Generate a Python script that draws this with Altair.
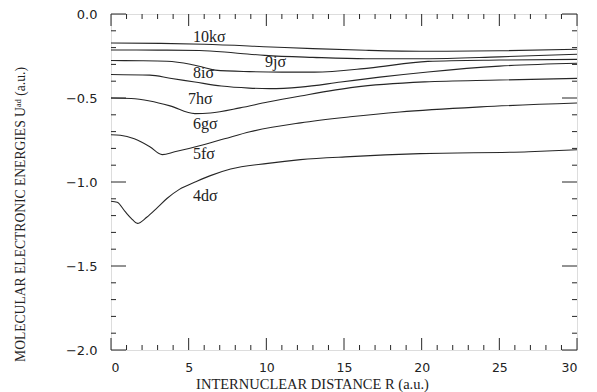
import altair as alt
import pandas as pd

# ---- data ----
R_10k = [0, 3.2, 6.0, 10.3, 13.0, 16.4, 20.2, 25.0, 30.0]
U_10k = [-0.173, -0.175, -0.18, -0.196, -0.206, -0.216, -0.222, -0.219, -0.21]

R_9j = [0, 3.0, 5.7, 8.0, 9.9, 13.0, 16.4, 20.2, 25.0, 30.0]
U_9j = [-0.214, -0.215, -0.217, -0.232, -0.246, -0.258, -0.266, -0.266, -0.255, -0.24]

R_8i = [0, 2.0, 3.6, 5.1, 6.0, 6.7, 8.9, 11.0, 13.1, 16.6, 20.4, 25.0, 30.0]
U_8i = [-0.277, -0.278, -0.281, -0.299, -0.318, -0.334, -0.343, -0.346, -0.346, -0.322, -0.282, -0.274, -0.27]

R_7h = [0, 2.5, 3.8, 5.4, 7.1, 8.9, 10.2, 12.2, 14.8, 17.3, 20.4, 25.0, 30.0]
U_7h = [-0.36, -0.364, -0.382, -0.405, -0.429, -0.441, -0.444, -0.435, -0.405, -0.376, -0.345, -0.31, -0.293]

R_6g = [0, 1.3, 2.5, 3.8, 5.4, 6.4, 8.3, 10.1, 12.2, 15.7, 20.2, 25.0, 30.0]
U_6g = [-0.50, -0.503, -0.518, -0.547, -0.593, -0.589, -0.559, -0.524, -0.488, -0.435, -0.404, -0.393, -0.383]

R_5f = [0, 0.6, 1.5, 2.5, 3.3, 4.1, 5.7, 7.3, 8.95, 12.2, 15.4, 18.6, 23.8, 30.0]
U_5f = [-0.719, -0.722, -0.743, -0.79, -0.837, -0.82, -0.784, -0.743, -0.701, -0.648, -0.612, -0.583, -0.553, -0.53]

R_4d = [0, 0.4, 0.9, 1.3, 1.7, 2.3, 3.0, 3.6, 4.4, 5.5, 6.4, 7.7, 10.1, 12.2, 15.4, 19.9, 26.9, 30.0]
U_4d = [-1.115, -1.121, -1.175, -1.216, -1.246, -1.21, -1.151, -1.098, -1.044, -0.997, -0.962, -0.923, -0.889, -0.867, -0.849, -0.831, -0.82, -0.808]

label_text = ["10kσ", "9jσ", "8iσ", "7hσ", "6gσ", "5fσ", "4dσ"]
label_R = [5.28, 9.92, 5.28, 4.96, 5.28, 5.28, 5.28]
label_U = [-0.166, -0.314, -0.379, -0.533, -0.686, -0.864, -1.112]

x_major = [0, 5, 10, 15, 20, 25, 30]
x_minor = [v for v in range(0, 31) if v % 5 != 0]
y_major = [0.0, -0.5, -1.0, -1.5, -2.0]
y_minor = [-0.1, -0.2, -0.3, -0.4, -0.6, -0.7, -0.8, -0.9, -1.1, -1.2, -1.3, -1.4,
           -1.6, -1.7, -1.8, -1.9]

W, H = 466, 336
LINE = "#262626"

series = [("10k", R_10k, U_10k), ("9j", R_9j, U_9j), ("8i", R_8i, U_8i), ("7h", R_7h, U_7h),
          ("6g", R_6g, U_6g), ("5f", R_5f, U_5f), ("4d", R_4d, U_4d)]
rows = []
for name, rs, us in series:
    for r, u in zip(rs, us):
        rows.append({"s": name, "R": r, "U": u})
df = pd.DataFrame(rows)
lab = pd.DataFrame({"t": label_text, "R": label_R, "U": label_U})

xs = alt.Scale(domain=[0, 30], nice=False, zero=False)
ys = alt.Scale(domain=[-2.0, 0.0], nice=False, zero=False)

XAX = alt.Axis(values=x_major, ticks=False, domain=False, grid=False,
               labelFont="DejaVu Sans", labelFontSize=12.5, labelColor="#222",
               labelPadding=11, format="d",
               title="INTERNUCLEAR DISTANCE R (a.u.)",
               titleFont="Liberation Serif", titleFontSize=14.5,
               titleFontWeight="normal", titleColor="#222",
               titleX=201, titleY=38, titleBaseline="alphabetic",
               titleAlign="center")
YAX = alt.Axis(values=y_major, ticks=False, domain=False, grid=False,
               labelFont="DejaVu Sans", labelFontSize=13, labelColor="#222",
               labelPadding=14, format=".1f",
               title="MOLECULAR ELECTRONIC ENERGIES Uᵃᵈ (a.u.)",
               titleFont="Liberation Serif", titleFontSize=13.6,
               titleFontWeight="normal", titleColor="#222",
               titleX=-91, titleY=200, titleAngle=270,
               titleBaseline="middle", titleAlign="center")

lines = alt.Chart(df).mark_line(color=LINE, strokeWidth=1.1, interpolate="monotone").encode(
    x=alt.X("R:Q", scale=xs, axis=XAX),
    y=alt.Y("U:Q", scale=ys, axis=YAX),
    detail="s:N",
)

labels = alt.Chart(lab).mark_text(font="Liberation Serif", fontSize=16, color="#222",
                                  align="left", baseline="alphabetic").encode(
    x=alt.X("R:Q", scale=xs, axis=XAX),
    y=alt.Y("U:Q", scale=ys, axis=YAX),
    text="t:N",
)

dxM = pd.DataFrame({"v": x_major})
dxm = pd.DataFrame({"v": x_minor})
dyM = pd.DataFrame({"v": y_major})
dym = pd.DataFrame({"v": y_minor})


def xticks(d, length):
    bot = alt.Chart(d).mark_rule(color=LINE, strokeWidth=1).encode(
        x=alt.X("v:Q", scale=xs, axis=XAX), y=alt.value(H), y2=alt.value(H - length))
    top = alt.Chart(d).mark_rule(color=LINE, strokeWidth=1).encode(
        x=alt.X("v:Q", scale=xs, axis=XAX), y=alt.value(0), y2=alt.value(length))
    return [bot, top]


def yticks(d, length):
    left = alt.Chart(d).mark_rule(color=LINE, strokeWidth=1).encode(
        y=alt.Y("v:Q", scale=ys, axis=YAX), x=alt.value(0), x2=alt.value(length))
    right = alt.Chart(d).mark_rule(color=LINE, strokeWidth=1).encode(
        y=alt.Y("v:Q", scale=ys, axis=YAX), x=alt.value(W), x2=alt.value(W - length))
    return [left, right]


layers = [lines, labels] + xticks(dxM, 12) + xticks(dxm, 5) + yticks(dyM, 15) + yticks(dym, 5)

chart = alt.layer(*layers).properties(
    width=W, height=H,
    padding={"left": 103, "top": 6, "right": 12, "bottom": 42},
    autosize=alt.AutoSizeParams(type="none"),
).configure_view(stroke=LINE, strokeWidth=1.2).configure(background="white")

chart.save("out.html", embed_options={"renderer": "svg", "actions": False})
